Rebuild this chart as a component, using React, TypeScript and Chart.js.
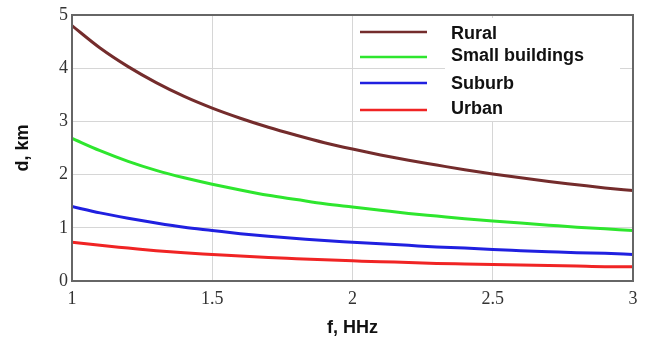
import React, { useEffect, useRef } from "react";
import { Chart, registerables } from "chart.js";

Chart.register(...registerables);

const frequencies = [1.0, 1.1, 1.2, 1.3, 1.4, 1.5, 1.6, 1.7, 1.8, 1.9, 2.0, 2.1, 2.2, 2.3, 2.4, 2.5, 2.6, 2.7, 2.8, 2.9, 3.0];
const rural = [4.80, 4.38, 4.03, 3.73, 3.47, 3.25, 3.06, 2.89, 2.74, 2.60, 2.48, 2.37, 2.27, 2.18, 2.09, 2.01, 1.94, 1.87, 1.81, 1.75, 1.70];
const smallBuildings = [2.68, 2.45, 2.25, 2.08, 1.94, 1.82, 1.71, 1.61, 1.53, 1.45, 1.39, 1.33, 1.27, 1.22, 1.17, 1.13, 1.09, 1.05, 1.01, 0.98, 0.95];
const suburb = [1.40, 1.28, 1.18, 1.09, 1.01, 0.95, 0.89, 0.84, 0.80, 0.76, 0.73, 0.70, 0.67, 0.64, 0.62, 0.59, 0.57, 0.55, 0.53, 0.52, 0.50];
const urban = [0.73, 0.67, 0.62, 0.57, 0.53, 0.50, 0.47, 0.44, 0.42, 0.40, 0.38, 0.36, 0.35, 0.33, 0.32, 0.31, 0.30, 0.29, 0.28, 0.27, 0.27];
const seriesLabels = ["Rural", "Small buildings", "Suburb", "Urban"];
const xTicks = [1, 1.5, 2, 2.5, 3];
const yTicks = [0, 1, 2, 3, 4, 5];

const colors = ["#742c2c", "#2ee62e", "#2020e0", "#f02424"];

const toPoints = (vals: number[]) => frequencies.map((f, i) => ({ x: f, y: vals[i] }));

const frameAndLegend = {
  id: "frameAndLegend",
  afterDatasetsDraw(chart: any) {
    const { ctx, chartArea } = chart;
    ctx.save();
    // legend
    ctx.fillStyle = "#ffffff";
    ctx.fillRect(445, 18, 175, 103);
    const lineYs = [32, 57, 83, 110];
    const textYs = [39, 61, 89, 114];
    chart.data.datasets.forEach((ds: any, i: number) => {
      ctx.strokeStyle = ds.borderColor;
      ctx.lineWidth = 2.5;
      ctx.beginPath();
      ctx.moveTo(360, lineYs[i]);
      ctx.lineTo(427, lineYs[i]);
      ctx.stroke();
      ctx.fillStyle = "#111111";
      ctx.font = "bold 18px 'Liberation Sans', Arial, sans-serif";
      ctx.textBaseline = "alphabetic";
      ctx.textAlign = "left";
      ctx.fillText(ds.label, 451, textYs[i]);
    });
    // frame
    ctx.strokeStyle = "#666666";
    ctx.lineWidth = 2;
    ctx.strokeRect(chartArea.left, chartArea.top, chartArea.right - chartArea.left, chartArea.bottom - chartArea.top);
    ctx.restore();
  },
};

export default function App() {
  const ref = useRef<HTMLCanvasElement>(null);
  useEffect(() => {
    document.body.style.margin = "0";
    const chart = new Chart(ref.current!, {
      type: "line",
      data: {
        datasets: [rural, smallBuildings, suburb, urban].map((vals, i) => ({
          label: seriesLabels[i],
          data: toPoints(vals),
          borderColor: colors[i],
          backgroundColor: colors[i],
          borderWidth: 3,
          pointRadius: 0,
          cubicInterpolationMode: "monotone" as const,
          fill: false,
        })),
      },
      plugins: [frameAndLegend],
      options: {
        responsive: false,
        animation: false,
        layout: { padding: { top: 15, right: 17, bottom: 0, left: 0 } },
        plugins: { legend: { display: false }, tooltip: { enabled: false } },
        scales: {
          x: {
            type: "linear",
            min: 1,
            max: 3,
            afterBuildTicks: (s: any) => {
              s.ticks = xTicks.map((v) => ({ value: v }));
            },
            afterFit: (s: any) => {
              s.height = 60;
            },
            border: { display: false },
            grid: { color: "#d6d6d6", lineWidth: 1, drawTicks: false },
            ticks: {
              padding: 7,
              color: "#333333",
              font: { family: "'Liberation Serif', 'Times New Roman', serif", size: 18 },
              maxRotation: 0,
              callback: (v: any) => String(v),
            },
            title: {
              display: true,
              text: "f, HHz",
              color: "#111111",
              font: { family: "'Liberation Sans', Arial, sans-serif", size: 18, weight: "bold" },
              padding: { top: 0, bottom: 2 },
            },
          },
          y: {
            type: "linear",
            min: 0,
            max: 5,
            afterBuildTicks: (s: any) => {
              s.ticks = yTicks.map((v) => ({ value: v }));
            },
            afterFit: (s: any) => {
              s.width = 72;
            },
            border: { display: false },
            grid: { color: "#d6d6d6", lineWidth: 1, drawTicks: false },
            ticks: {
              padding: 4,
              color: "#333333",
              font: { family: "'Liberation Serif', 'Times New Roman', serif", size: 18 },
              callback: (v: any) => String(v),
            },
            title: {
              display: true,
              text: "d, km",
              color: "#111111",
              font: { family: "'Liberation Sans', Arial, sans-serif", size: 18, weight: "bold" },
              padding: { top: 12, bottom: 0 },
            },
          },
        },
      },
    });
    return () => chart.destroy();
  }, []);
  return <canvas ref={ref} width={650} height={341} style={{ display: "block" }} />;
}
